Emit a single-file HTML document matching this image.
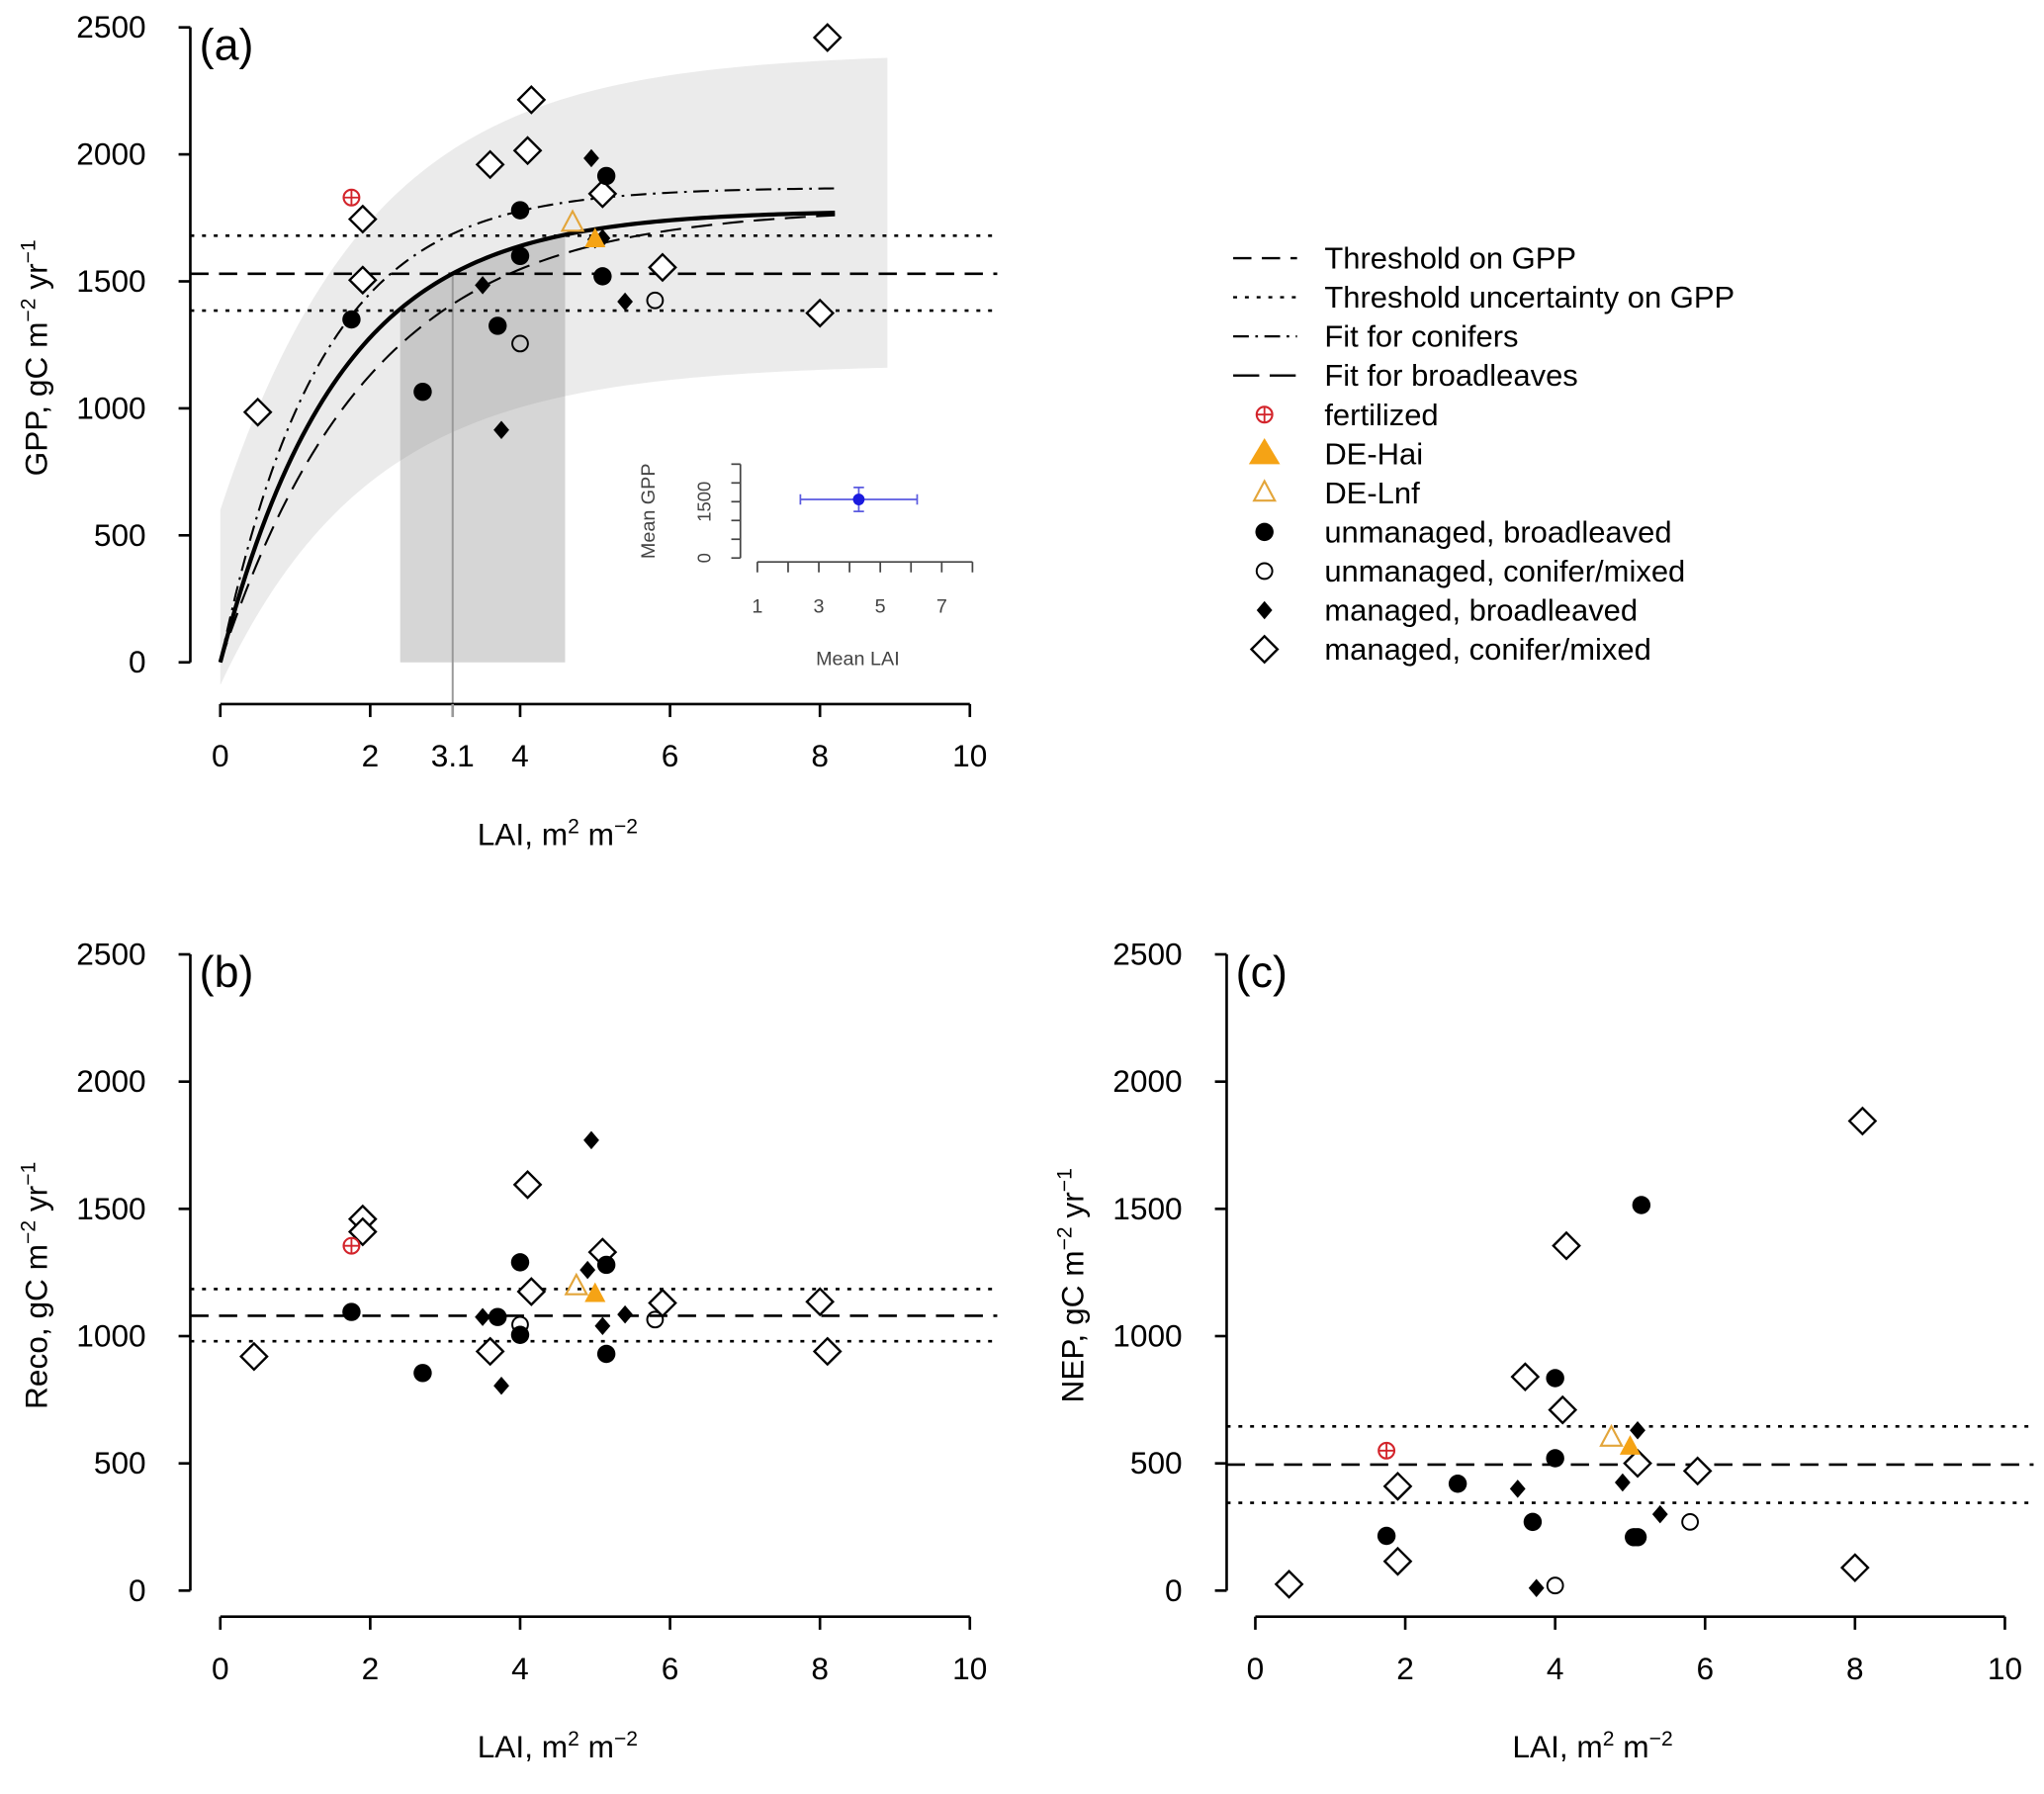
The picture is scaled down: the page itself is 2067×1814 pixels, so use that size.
<!DOCTYPE html>
<html><head><meta charset="utf-8">
<style>
html,body{margin:0;padding:0;background:#fff;}
svg{display:block;font-family:"Liberation Sans",Arial,sans-serif;}
</style></head>
<body>
<svg id="fig" width="2067" height="1814" viewBox="0 0 1568 1376" preserveAspectRatio="none" xmlns="http://www.w3.org/2000/svg">
<defs>
<clipPath id="clipA"><rect x="146" y="0" width="620" height="525"/></clipPath>
</defs>
<g id="panelA"></g>
<g id="panelB"></g>
<g id="panelC"></g>
<g id="inset"></g>
<g id="legend"></g>
</svg>
<script>
// ---------- Data ----------
// Panel a: GPP
const aFertX=[1.75], aFertY=[1830];
const aHaiX=[5.0], aHaiY=[1665];
const aLnfX=[4.7], aLnfY=[1730];
const aUBX=[1.75,2.7,3.7,4.0,4.0,5.15,5.1], aUBY=[1350,1065,1325,1780,1600,1915,1520];
const aUCX=[4.0,5.8], aUCY=[1255,1425];
const aMBX=[3.5,3.75,4.95,5.1,5.0,5.4], aMBY=[1485,915,1985,1670,1665,1420];
const aMCX=[0.5,1.9,1.9,3.6,4.15,4.1,5.1,5.9,8.0,8.1], aMCY=[985,1745,1505,1960,2215,2015,1845,1555,1375,2460];
const aThreshold=[1385,1530,1680];
// fit parameters: GPP = asym*(1-exp(-rate*LAI))
const fitAll=[1780,0.634], fitConifer=[1870,0.75], fitBroad=[1790,0.50];
const bandUpper=[600,2380], bandLower=[-90,1160]; // value at LAI 0 and at LAI 8.9
const bandXMax=8.9, laiThreshold=3.1, laiRange=[2.4,4.6];
// Panel b: Reco
const bFertX=[1.75], bFertY=[1355];
const bHaiX=[5.0], bHaiY=[1165];
const bLnfX=[4.75], bLnfY=[1195];
const bUBX=[1.75,2.7,3.7,4.0,4.0,5.15,5.15], bUBY=[1095,855,1075,1290,1005,1280,930];
const bUCX=[4.0,5.8], bUCY=[1045,1065];
const bMBX=[3.5,3.75,4.95,4.9,5.1,5.4], bMBY=[1075,805,1770,1260,1040,1085];
const bMCX=[0.45,1.9,1.9,3.6,4.1,4.15,5.1,5.9,8.0,8.1], bMCY=[920,1460,1410,940,1595,1175,1330,1130,1135,940];
const bThreshold=[980,1080,1185];
// Panel c: NEP
const cFertX=[1.75], cFertY=[550];
const cHaiX=[5.0], cHaiY=[565];
const cLnfX=[4.75], cLnfY=[600];
const cUBX=[1.75,2.7,3.7,4.0,4.0,5.15,5.05,5.1], cUBY=[215,420,270,835,520,1515,210,210];
const cUCX=[4.0,5.8], cUCY=[20,270];
const cMBX=[3.5,3.75,4.9,5.1,5.4], cMBY=[400,10,425,630,300];
const cMCX=[0.45,1.9,1.9,3.6,4.15,4.1,5.1,5.9,8.0,8.1], cMCY=[25,410,115,840,1355,710,500,470,90,1845];
const cThreshold=[345,495,645];
// axis ticks
const yTicks=[0,500,1000,1500,2000,2500];
const xTicksA=[0,2,3.1,4,6,8,10];
const xTicksBC=[0,2,4,6,8,10];
// inset
const insetX=[4.3], insetY=[1560], insetXErr=[1.9], insetYErr=[320];
const insetXTicks=[1,2,3,4,5,6,7,8], insetXLabels=[1,3,5,7];
const insetYTicks=[0,500,1000,1500,2000,2500], insetYLabels=[0,1500];

const NS="http://www.w3.org/2000/svg";
function mk(parent,tag,attrs){const e=document.createElementNS(NS,tag);for(const k in attrs)e.setAttribute(k,attrs[k]);parent.appendChild(e);return e;}

function makeAxes(left,bottomY,topY,xAxisY){
  return {x:v=>left+57.5*v, y:v=>bottomY-(bottomY-topY)*v/2500, xAxisY:xAxisY};
}
const AX={a:makeAxes(169,508,21,540), b:makeAxes(169,1220,732,1240), c:makeAxes(963,1220,732,1240)};

function drawAxes(g,ax,yAxisX,xTicks,ylabel,panelLetter){
  const yl=mk(g,'line',{x1:yAxisX,y1:ax.y(2500),x2:yAxisX,y2:ax.y(0),stroke:'#000','stroke-width':2});
  
  
  yTicks.forEach(t=>{
    const tk=mk(g,'line',{x1:yAxisX-9,y1:ax.y(t),x2:yAxisX,y2:ax.y(t),stroke:'#000','stroke-width':2});
    
    
    const tx=mk(g,'text',{x:yAxisX-34,y:ax.y(t)+8,'text-anchor':'end','font-size':24});
    tx.textContent=t;
    
    
  });
  const xl=mk(g,'line',{x1:ax.x(0),y1:ax.xAxisY,x2:ax.x(10),y2:ax.xAxisY,stroke:'#000','stroke-width':2});
  
  
  xTicks.forEach(t=>{
    const col=(t===3.1)?'#999':'#000';
    const tk=mk(g,'line',{x1:ax.x(t),y1:ax.xAxisY,x2:ax.x(t),y2:ax.xAxisY+10,stroke:col,'stroke-width':2});
    
    
    const tx=mk(g,'text',{x:ax.x(t),y:ax.xAxisY+48,'text-anchor':'middle','font-size':24});
    tx.textContent=t;
    
    
  });
  const xt=mk(g,'text',{x:ax.x(4.5),y:ax.xAxisY+108,'text-anchor':'middle','font-size':24});
  xt.innerHTML='LAI, m<tspan dy="-9" font-size="16">2</tspan><tspan dy="9"> m</tspan><tspan dy="-9" font-size="16">−2</tspan>';
  
  
  const cy=(ax.y(0)+ax.y(2500))/2;
  const yt=mk(g,'text',{x:0,y:0,'text-anchor':'middle','font-size':24,transform:`translate(${yAxisX-110},${cy+10}) rotate(-90)`});
  yt.innerHTML=ylabel+', gC m<tspan dy="-9" font-size="16">−2</tspan><tspan dy="9"> yr</tspan><tspan dy="-9" font-size="16">−1</tspan>';
  
  
  const pl=mk(g,'text',{x:yAxisX+7,y:ax.y(2500)+25,'font-size':34});
  pl.textContent='('+panelLetter+')';
  
  
}

function drawThresholds(g,ax,x1,x2,th){
  [0,1,2].forEach(i=>{
    const dash=(i===1)?'14 8':'3 6';
    const l=mk(g,'line',{x1:x1,y1:ax.y(th[i]),x2:x2,y2:ax.y(th[i]),stroke:'#000','stroke-width':2,'stroke-dasharray':dash});
    
    
  });
}

function marker(g,type,cx,cy){
  let e;
  if(type==='ub'){e=mk(g,'circle',{cx:cx,cy:cy,r:7,fill:'#000'});}
  else if(type==='uc'){e=mk(g,'circle',{cx:cx,cy:cy,r:6,fill:'none',stroke:'#000','stroke-width':1.5});}
  else if(type==='mb'){e=mk(g,'path',{d:`M${cx} ${cy-7}L${cx+6} ${cy}L${cx} ${cy+7}L${cx-6} ${cy}Z`,fill:'#000'});}
  else if(type==='mc'){e=mk(g,'path',{d:`M${cx} ${cy-10}L${cx+10} ${cy}L${cx} ${cy+10}L${cx-10} ${cy}Z`,fill:'#fff',stroke:'#000','stroke-width':1.8});}
  else if(type==='hai'){e=mk(g,'path',{d:`M${cx} ${cy-9}L${cx+8} ${cy+6}L${cx-8} ${cy+6}Z`,fill:'#f5a315'});}
  else if(type==='lnf'){e=mk(g,'path',{d:`M${cx} ${cy-9}L${cx+8} ${cy+6}L${cx-8} ${cy+6}Z`,fill:'none',stroke:'#e3a53a','stroke-width':1.6});}
  else if(type==='fert'){
    e=mk(g,'g',{});
    mk(e,'circle',{cx:cx,cy:cy,r:6,fill:'none',stroke:'#d3242b','stroke-width':1.6});
    mk(e,'path',{d:`M${cx-6} ${cy}H${cx+6}M${cx} ${cy-6}V${cy+6}`,stroke:'#d3242b','stroke-width':1.4});
  }
  return e;
}
const typeNames={ub:'unmanaged-broadleaved-point',uc:'unmanaged-conifer-point',mb:'managed-broadleaved-point',mc:'managed-conifer-point',hai:'de-hai-point',lnf:'de-lnf-point',fert:'fertilized-point'};
function drawPoints(g,ax,type,xs,ys){
  xs.forEach((v,i)=>{
    const e=marker(g,type,ax.x(v),ax.y(ys[i]));
    
    
  });
}
function drawAllPoints(g,ax,d){
  drawPoints(g,ax,'mc',d.mcx,d.mcy);
  drawPoints(g,ax,'uc',d.ucx,d.ucy);
  drawPoints(g,ax,'ub',d.ubx,d.uby);
  drawPoints(g,ax,'mb',d.mbx,d.mby);
  drawPoints(g,ax,'lnf',d.lnfx,d.lnfy);
  drawPoints(g,ax,'hai',d.haix,d.haiy);
  drawPoints(g,ax,'fert',d.fertx,d.ferty);
}

// ---------- Panel a ----------
(function(){
  const g=document.getElementById('panelA'), ax=AX.a;
  const fit=(p,x)=>p[0]*(1-Math.exp(-p[1]*x));
  const bandFn=(arr,x)=>{
    const k=0.5, f=(1-Math.exp(-k*x))/(1-Math.exp(-k*bandXMax));
    return arr[0]+(arr[1]-arr[0])*f;
  };
  const clip=mk(g,'g',{'clip-path':'url(#clipA)'});
  let up=[],lo=[];
  for(let i=0;i<=100;i++){const x=bandXMax*i/100;up.push(`${ax.x(x)},${ax.y(bandFn(bandUpper,x))}`);}
  for(let i=100;i>=0;i--){const x=bandXMax*i/100;lo.push(`${ax.x(x)},${ax.y(bandFn(bandLower,x))}`);}
  const band=mk(clip,'polygon',{points:up.concat(lo).join(' '),fill:'#ebebeb'});
  
  
  let pts=[`${ax.x(laiRange[0])},${ax.y(0)}`];
  for(let i=0;i<=40;i++){const x=laiRange[0]+(laiRange[1]-laiRange[0])*i/40;pts.push(`${ax.x(x)},${ax.y(fit(fitAll,x))}`);}
  pts.push(`${ax.x(laiRange[1])},${ax.y(0)}`);
  const rng=mk(g,'polygon',{points:pts.join(' '),fill:'#777','fill-opacity':0.3});
  
  
  const vl=mk(g,'line',{x1:ax.x(laiThreshold),y1:ax.y(fit(fitAll,laiThreshold)),x2:ax.x(laiThreshold),y2:ax.xAxisY,stroke:'#999','stroke-width':1.5});
  
  
  drawThresholds(g,ax,146,765,aThreshold);
  function curve(p,dash,w,name){
    let d='';for(let i=0;i<=120;i++){const x=8.2*i/120;d+=(i?'L':'M')+ax.x(x)+' '+ax.y(fit(p,x));}
    const c=mk(g,'path',{d:d,fill:'none',stroke:'#000','stroke-width':w});
    if(dash)c.setAttribute('stroke-dasharray',dash);
    
    
  }
  curve(fitConifer,'12 5 2 5',1.6,'fit-conifers');
  curve(fitBroad,'16 8',1.6,'fit-broadleaves');
  curve(fitAll,null,3.2,'fit-all');
  drawAxes(g,ax,146,xTicksA,'GPP','a');
  drawAllPoints(g,ax,{fertx:aFertX,ferty:aFertY,haix:aHaiX,haiy:aHaiY,lnfx:aLnfX,lnfy:aLnfY,ubx:aUBX,uby:aUBY,ucx:aUCX,ucy:aUCY,mbx:aMBX,mby:aMBY,mcx:aMCX,mcy:aMCY});
})();

// ---------- Panel b ----------
(function(){
  const g=document.getElementById('panelB'), ax=AX.b;
  drawThresholds(g,ax,146,765,bThreshold);
  drawAxes(g,ax,146,xTicksBC,'Reco','b');
  drawAllPoints(g,ax,{fertx:bFertX,ferty:bFertY,haix:bHaiX,haiy:bHaiY,lnfx:bLnfX,lnfy:bLnfY,ubx:bUBX,uby:bUBY,ucx:bUCX,ucy:bUCY,mbx:bMBX,mby:bMBY,mcx:bMCX,mcy:bMCY});
})();
// ---------- Panel c ----------
(function(){
  const g=document.getElementById('panelC'), ax=AX.c;
  drawThresholds(g,ax,941,1560,cThreshold);
  drawAxes(g,ax,941,xTicksBC,'NEP','c');
  drawAllPoints(g,ax,{fertx:cFertX,ferty:cFertY,haix:cHaiX,haiy:cHaiY,lnfx:cLnfX,lnfy:cLnfY,ubx:cUBX,uby:cUBY,ucx:cUCX,ucy:cUCY,mbx:cMBX,mby:cMBY,mcx:cMCX,mcy:cMCY});
})();

// ---------- Inset ----------
(function(){
  const g=document.getElementById('inset');
  const ix=v=>581+(v-1)*(746-581)/7, iy=v=>428-v*(428-356)/2500;
  const c='#444';
  const ya=mk(g,'line',{x1:568,y1:iy(2500),x2:568,y2:iy(0),stroke:c,'stroke-width':1.3});
  
  
  insetYTicks.forEach(t=>{const l=mk(g,'line',{x1:561,y1:iy(t),x2:568,y2:iy(t),stroke:c,'stroke-width':1.3});
    
    });
  insetYLabels.forEach(t=>{const tx=mk(g,'text',{x:0,y:0,'text-anchor':'middle','font-size':14,fill:c,transform:`translate(${545},${iy(t)}) rotate(-90)`});tx.textContent=t;
    
    });
  const xa=mk(g,'line',{x1:ix(1),y1:431,x2:ix(8),y2:431,stroke:c,'stroke-width':1.3});
  
  
  insetXTicks.forEach(t=>{const l=mk(g,'line',{x1:ix(t),y1:431,x2:ix(t),y2:439,stroke:c,'stroke-width':1.3});
    
    });
  insetXLabels.forEach(t=>{const tx=mk(g,'text',{x:ix(t),y:470,'text-anchor':'middle','font-size':15,fill:c});tx.textContent=t;
    
    });
  const xl=mk(g,'text',{x:658,y:510,'text-anchor':'middle','font-size':15,fill:c});xl.textContent='Mean LAI';
  
  
  const yl=mk(g,'text',{x:0,y:0,'text-anchor':'middle','font-size':15,fill:c,transform:'translate(502,392) rotate(-90)'});yl.textContent='Mean GPP';
  
  
  insetX.forEach((v,i)=>{
    const px=ix(v), py=iy(insetY[i]);
    const x1=ix(v-insetXErr[i]), x2=ix(v+insetXErr[i]), y1=iy(insetY[i]+insetYErr[i]), y2=iy(insetY[i]-insetYErr[i]);
    const eb=mk(g,'path',{d:`M${x1} ${py}H${x2}M${x1} ${py-4}V${py+4}M${x2} ${py-4}V${py+4}M${px} ${y1}V${y2}M${px-4} ${y1}H${px+4}M${px-4} ${y2}H${px+4}`,stroke:'#5a5ae0','stroke-width':1.3,fill:'none'});
    
    
    const p=mk(g,'circle',{cx:px,cy:py,r:4.5,fill:'#1a1adf'});
    
    
  });
})();

// ---------- Legend ----------
(function(){
  const g=document.getElementById('legend');
  const labels=['Threshold on GPP','Threshold uncertainty on GPP','Fit for conifers','Fit for broadleaves','fertilized','DE-Hai','DE-Lnf','unmanaged, broadleaved','unmanaged, conifer/mixed','managed, broadleaved','managed, conifer/mixed'];
  const kinds=['l:14 8','l:3 6','l:12 5 2 5','l:20 8','fert','haiL','lnf','ub','uc','mb','mc'];
  labels.forEach((lab,i)=>{
    const y=198+30*i;
    const k=kinds[i];
    let e;
    if(k.startsWith('l:')){e=mk(g,'line',{x1:946,y1:y,x2:995,y2:y,stroke:'#000','stroke-width':1.8,'stroke-dasharray':k.slice(2)});}
    else if(k==='haiL'){e=mk(g,'path',{d:`M970 ${y-12}L982 ${y+8}L958 ${y+8}Z`,fill:'#f5a315'});}
    else {e=marker(g,k,970,y);}
    
    
    const t=mk(g,'text',{x:1016,y:y+8,'font-size':23.5});
    t.textContent=lab;
    
    
  });
})();
</script>
</body></html>
